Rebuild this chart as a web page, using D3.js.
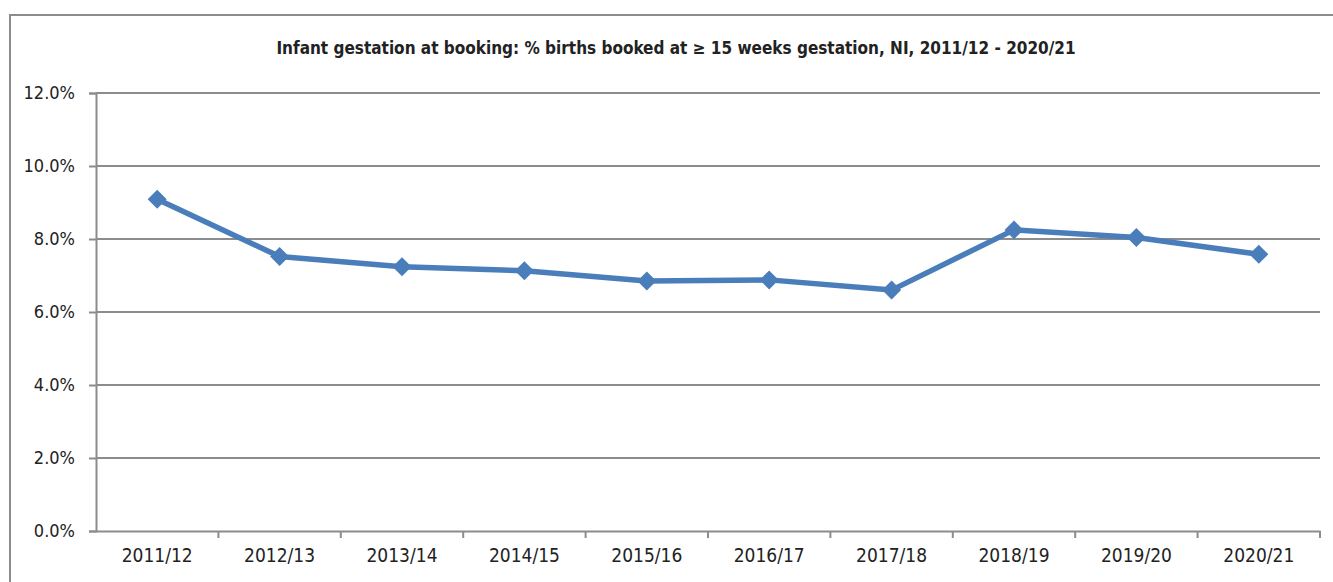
<!DOCTYPE html>
<html>
<head>
<meta charset="utf-8">
<script src="https://cdn.jsdelivr.net/npm/d3@7"></script>
<style>
  body { margin: 0; background: #fff; }
  text { font-family: "Liberation Sans Narrow", "DejaVu Sans Condensed", "Liberation Sans", sans-serif; fill: #222; }
</style>
</head>
<body>
<div id="chart"></div>
<script>
// data
var years = ["2011/12", "2012/13", "2013/14", "2014/15", "2015/16", "2016/17", "2017/18", "2018/19", "2019/20", "2020/21"];
var pctBooked = [9.09, 7.52, 7.24, 7.13, 6.85, 6.88, 6.60, 8.25, 8.04, 7.58];
var yTicks = [0, 2, 4, 6, 8, 10, 12];

var W = 1333, H = 582;
var margin = {top: 93, right: 13, bottom: 51, left: 96};

var svg = d3.select("#chart").append("svg")
  .attr("width", W)
  .attr("height", H);

// outer frame
svg.append("rect")
  .attr("x", 10).attr("y", 15)
  .attr("width", W + 20).attr("height", H + 20)
  .attr("fill", "none")
  .attr("stroke", "#8c8c8c")
  .attr("stroke-width", 2);

// title
svg.append("text")
  .attr("x", 676).attr("y", 54)
  .attr("text-anchor", "middle")
  .style("font-size", "17px")
  .style("font-weight", "bold")
  .text("Infant gestation at booking: % births booked at \u2265 15 weeks gestation, NI, 2011/12 - 2020/21");

var g = svg.append("g")
  .attr("transform", "translate(" + margin.left + "," + margin.top + ")");

var w = W - margin.left - margin.right;
var h = H - margin.top - margin.bottom;

var xScale = d3.scaleBand().domain(years).range([0, w]);
var yScale = d3.scaleLinear().domain([0, 12]).range([h, 0]);

// gridlines
g.selectAll(".grid")
  .data(yTicks.filter(function(d) { return d > 0; }))
  .enter().append("line")
  .attr("class", "grid")
  .attr("x1", 0).attr("x2", w)
  .attr("y1", function(d) { return yScale(d); })
  .attr("y2", function(d) { return yScale(d); })
  .attr("stroke", "#8c8c8c")
  .attr("stroke-width", 2);

// y axis
var yAxis = d3.axisLeft(yScale)
  .tickValues(yTicks)
  .tickSize(7)
  .tickPadding(14)
  .tickFormat(function(d) { return d.toFixed(1) + "%"; });

var ya = g.append("g").call(yAxis);
ya.selectAll("path, line").attr("stroke", "#8c8c8c").attr("stroke-width", 2);
ya.selectAll("text").style("font-size", "18px");

// x axis, ticks between categories
var xAxis = d3.axisBottom(xScale).tickSize(0).tickPadding(18);
var xa = g.append("g")
  .attr("transform", "translate(0," + h + ")")
  .call(xAxis);
xa.select(".domain").attr("stroke", "#8c8c8c").attr("stroke-width", 2);
xa.selectAll("text").style("font-size", "19px");

xa.selectAll(".sep")
  .data(years)
  .enter().append("line")
  .attr("class", "sep")
  .attr("x1", function(d) { return xScale(d) + xScale.bandwidth(); })
  .attr("x2", function(d) { return xScale(d) + xScale.bandwidth(); })
  .attr("y1", 0).attr("y2", 7)
  .attr("stroke", "#8c8c8c")
  .attr("stroke-width", 2);

// the line
var line = d3.line()
  .x(function(d, i) { return xScale(years[i]) + xScale.bandwidth() / 2; })
  .y(function(d) { return yScale(d); });

g.append("path")
  .datum(pctBooked)
  .attr("d", line)
  .attr("fill", "none")
  .attr("stroke", "#4a7ebb")
  .attr("stroke-width", 5.5)
  .attr("stroke-linejoin", "round");

// diamond markers
g.selectAll(".pt")
  .data(pctBooked)
  .enter().append("path")
  .attr("class", "pt")
  .attr("d", d3.symbol().type(d3.symbolDiamond2).size(230))
  .attr("transform", function(d, i) {
    return "translate(" + (xScale(years[i]) + xScale.bandwidth() / 2) + "," + yScale(d) + ")";
  })
  .attr("fill", "#4a7ebb");
</script>
</body>
</html>
